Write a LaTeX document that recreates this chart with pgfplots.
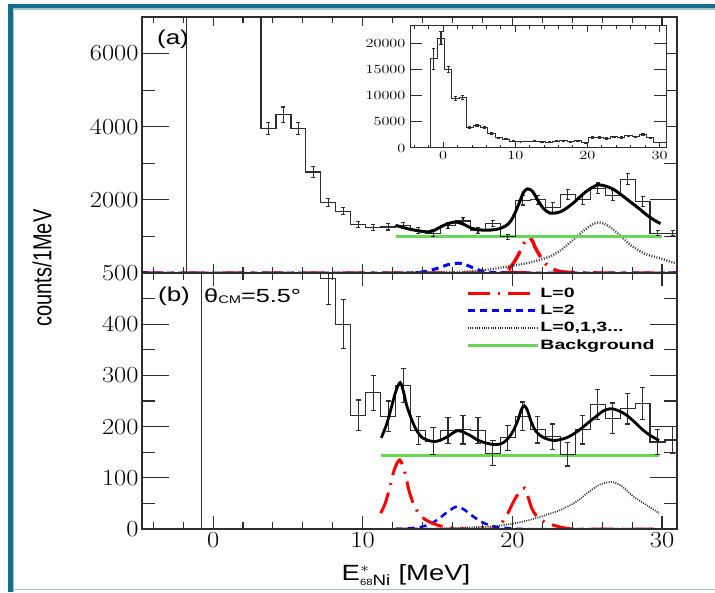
\documentclass[border=0pt]{standalone}
\usepackage{pgfplots}
\usepackage{pgfplotstable}
\pgfplotsset{compat=1.18}
\usepackage{fontspec}
\setsansfont{Liberation Sans}

\definecolor{frameteal}{RGB}{24,110,142}
\definecolor{framelight}{RGB}{168,196,204}
\definecolor{fitgreen}{RGB}{105,215,85}
\definecolor{histgray}{RGB}{45,45,45}

% ---------- panel (a) / inset histogram (bin edges, const plot mark left)
\pgfplotstableread{
x y
-1.8 0
-1.8 17000
-0.8 21000
0.2 15000
1.2 9400
2.2 9700
3.2 3950
4.2 4330
5.2 3950
6.2 2760
7.2 1930
8.2 1690
9.2 1320
10.2 1240
11.2 1260
12.2 1300
13.2 1170
14.2 1090
15.2 1300
16.2 1420
17.2 1170
18.2 1350
19.2 990
20.2 1990
21.2 2000
22.2 1790
23.2 2140
24.2 2005
25.2 2320
26.2 2120
27.2 2560
28.2 1950
29.2 1090
30.2 1090
31.2 1090
}\tabAstep

\pgfplotstableread{
c y e
-1.3 17000 2000
-0.3 21000 1250
0.7 15000 500
1.7 9400 350
2.7 9700 350
3.7 3950 175
4.7 4330 210
5.7 3950 175
6.7 2760 145
7.7 1930 113
8.7 1690 100
9.7 1320 85
10.7 1240 85
11.7 1260 85
12.7 1300 85
13.7 1170 85
14.7 1090 85
15.7 1300 85
16.7 1420 90
17.7 1170 85
18.7 1350 90
19.7 990 70
20.7 1990 130
21.7 2000 130
22.7 1790 130
23.7 2140 135
24.7 2005 130
25.7 2320 140
26.7 2120 135
27.7 2560 150
28.7 1950 130
29.7 1090 60
30.7 1090 60
}\tabAerr

% ---------- panel (b) histogram
\pgfplotstableread{
x y
-0.8 0
-0.8 3000
0.2 3000
1.2 2500
2.2 2000
3.2 1500
4.2 1200
5.2 1000
6.2 800
7.2 490
8.2 400
9.2 222
10.2 266
11.2 220
12.2 280
13.2 192
14.2 172
15.2 192
16.2 194
17.2 192
18.2 148
19.2 178
20.2 220
21.2 194
22.2 180
23.2 146
24.2 194
25.2 243
26.2 216
27.2 235
28.2 245
29.2 170
30.2 174
31.2 174
}\tabBstep

\pgfplotstableread{
c y e
7.7 490 52
8.7 400 48
9.7 222 30
10.7 266 34
11.7 220 30
12.7 280 33
13.7 192 27
14.7 172 27
15.7 192 25
16.7 194 28
17.7 192 25
18.7 148 24
19.7 178 25
20.7 220 28
21.7 194 26
22.7 180 25
23.7 146 23
24.7 194 28
25.7 243 30
26.7 216 30
27.7 235 30
28.7 245 31
29.7 170 25
30.7 174 26
}\tabBerr

\pgfplotsset{
  panel/.style={scale only axis, width=535pt, height=256pt, xmin=-4.75, xmax=31,
    anchor=south west,
    axis line style={histgray, line width=1.1pt},
    tick style={histgray, line width=1.1pt},
    /pgf/number format/1000 sep={}, /pgf/number format/assume math mode=true,
    scaled ticks=false,
    tick label style={font=\rmfamily\fontsize{23}{23}\selectfont, xscale=1.15, text=black},
    yticklabel style={xshift=0.5pt}},
  hist/.style={histgray, line width=1.2pt, const plot mark left, mark=none},
  errs/.style={histgray, line width=1.1pt, only marks, mark=text, text mark={},
    error bars/y dir=both, error bars/y explicit,
    error bars/error bar style={histgray, line width=1.1pt},
    error bars/error mark options={rotate=90, histgray, line width=1.1pt, mark size=2.6pt}},
  redL/.style={red, line width=3pt, dash pattern=on 22pt off 8pt on 2pt off 8pt, smooth},
  blueL/.style={blue, line width=2.5pt, dash pattern=on 7pt off 5pt, smooth},
  dotL/.style={black!85, line width=1.6pt, dash pattern=on 1pt off 1.3pt, smooth},
  bgL/.style={fitgreen, line width=2.6pt},
  fitL/.style={black, line width=2.8pt, smooth},
}

\begin{document}
\begin{tikzpicture}[x=1pt,y=1pt]
\path[use as bounding box] (0,0) rectangle (715,592);
% slide frame
\fill[frameteal] (7.5,0) rectangle (12.5,588);
\fill[frameteal] (7.5,584) rectangle (715,588);
\draw[framelight, line width=1.2pt] (13.2,583) -- (715,583);
\draw[framelight, line width=1.2pt] (13.2,0) -- (13.2,583);
\draw[framelight, line width=1.2pt] (13.2,2.5) -- (715,2.5);

% ================= panel (b) =================
\begin{axis}[panel, at={(142pt,63pt)}, ymin=0, ymax=500,
  ytick={0,100,200,300,400,500}, minor ytick={50,150,250,350,450},
  xtick=\empty, major tick length=27pt, minor tick length=13pt,
  legend style={at={(0.6,0.955)}, anchor=north west, draw=none, fill=none,
    font=\sffamily\bfseries\fontsize{13.5}{14}\selectfont, row sep=4pt,
    nodes={inner sep=1.2pt}},
  legend cell align=left,
  legend image code/.code={\draw[#1] (0pt,0pt) -- (70pt,0pt);},
]
% L=0 (second peak, legend carrier)
\addplot[redL] coordinates {(12.2,0) (18.5,0) (19.2,10) (19.6,25) (20.1,55) (20.5,73) (20.8,80) (21.05,62) (21.3,40) (21.6,26) (21.9,18) (22.4,11) (22.8,7) (23.5,2) (24.5,0) (30,0)};
\addlegendentry{\scalebox{1.45}[1]{L=0}}
\addplot[blueL] coordinates {(12.2,0) (13,1) (13.9,4) (14.5,10) (15,18) (15.6,32) (16.2,43) (16.6,41) (17,33) (17.5,22) (18,13) (18.6,6) (19.2,3) (20,1) (21,0) (30,0)};
\addlegendentry{\scalebox{1.45}[1]{L=2}}
\addplot[dotL] coordinates {(12.2,0) (15,1) (17,3) (18.5,5) (19.5,8) (20.3,12) (21.2,18) (22.2,27) (23.2,37) (24.2,52) (25,70) (25.8,86) (26.6,92) (27.3,84) (28.1,63) (29,46) (29.8,31)};
\addlegendentry{\scalebox{1.45}[1]{L=0,1,3...}}
\addplot[bgL] coordinates {(11.2,143) (29.8,143)};
\addlegendentry{\scalebox{1.45}[1]{Background}}
% L=0 first peak
\addplot[forget plot, redL] coordinates {(11.2,31) (11.5,50) (11.8,80) (12.1,115) (12.47,135) (12.8,112) (13.1,74) (13.4,48) (13.7,32) (14.1,20) (14.6,12) (15.2,6) (15.8,2.5) (16.5,1) (17,0)};
% histogram + errors
\addplot[forget plot, hist] table[x=x, y=y] {\tabBstep};
\addplot[forget plot, errs] table[x=c, y=y, y error=e] {\tabBerr};
% total fit
\addplot[forget plot, fitL] coordinates {(11.24,178) (11.6,205) (11.9,236) (12.2,268) (12.5,286) (12.75,265) (12.95,240) (13.36,207) (13.7,188) (14.0,178) (14.5,172) (14.9,171) (15.3,175) (15.7,181) (16.35,192) (17.1,184) (17.6,175) (18.0,170) (18.7,165) (19.2,166) (19.5,171) (19.8,180) (20.1,194) (20.4,215) (20.6,233) (20.8,241) (21.0,232) (21.25,210) (21.5,194) (21.8,184) (22.2,177) (22.7,173) (23.1,174) (23.6,178) (24.0,184) (24.5,194) (25.0,206) (25.6,220) (26.1,231) (26.6,235) (27.1,231) (27.6,223) (28.2,208) (28.7,194) (29.2,183) (29.8,173)};
\end{axis}
% x ticks of panel (b)
\begin{axis}[panel, at={(142pt,63pt)}, ymin=0, ymax=500, ytick=\empty,
  xtick={0,10,20,30}, minor xtick={-4,-2,2,4,6,8,12,14,16,18,22,24,26,28},
  major tick length=13pt, minor tick length=6.5pt]
\end{axis}

% ================= panel (a) =================
\begin{axis}[panel, at={(142pt,319pt)}, ymin=0, ymax=7000,
  ytick={2000,4000,6000}, minor ytick={1000,3000,5000},
  xtick=\empty, major tick length=27pt, minor tick length=13pt]
\addplot[redL, line width=3.5pt] coordinates {(-4.75,0) (19,0) (19.5,40) (19.9,170) (20.2,354) (20.5,580) (20.8,830) (21.1,980) (21.35,870) (21.5,716) (21.8,500) (22.1,308) (22.5,150) (23.0,60) (23.5,25) (24.5,5) (25.5,0) (31,0)};
\addplot[blueL, line width=3pt] coordinates {(-4.75,0) (13,0) (13.5,10) (14,30) (14.6,82) (15,130) (15.3,170) (15.7,230) (16.1,262) (16.4,268) (16.8,240) (17.1,190) (17.5,120) (17.9,65) (18.4,25) (19,8) (20,0) (31,0)};
\addplot[dotL, line width=2.4pt, black!75, dash pattern=on 1pt off 1.6pt] coordinates {(-4.75,0) (12,0) (14,10) (16,25) (17,40) (18,75) (19,130) (20,200) (21,270) (22,380) (22.5,450) (23,560) (23.4,672) (23.8,820) (24.3,988) (24.7,1140) (25.1,1260) (25.4,1340) (25.75,1385) (26.1,1350) (26.5,1260) (26.9,1130) (27.3,988) (27.9,762) (28.4,630) (28.8,536) (29.4,450) (29.9,400) (30.4,330) (30.9,264) (31,255)};
\addplot[bgL, line width=3pt] coordinates {(12.2,1000) (30,1000)};
\addplot[hist] table[x=x, y=y] {\tabAstep};
\addplot[errs, /pgfplots/error bars/error mark options={rotate=90, histgray, line width=1.1pt, mark size=2pt}] table[x=c, y=y, y error=e] {\tabAerr};
\addplot[fitL, line width=3pt] coordinates {(12.2,1300) (12.6,1260) (13.0,1210) (13.5,1170) (14.0,1135) (14.4,1125) (14.8,1170) (15.2,1260) (15.7,1350) (16.2,1395) (16.7,1340) (17.3,1220) (17.8,1180) (18.3,1170) (18.8,1185) (19.2,1220) (19.6,1300) (19.85,1400) (20.1,1570) (20.3,1760) (20.5,1960) (20.7,2170) (20.85,2260) (21.0,2300) (21.2,2280) (21.4,2200) (21.7,1990) (22.07,1768) (22.5,1640) (23.0,1650) (23.4,1714) (24.0,1890) (24.5,2076) (25.0,2250) (25.6,2394) (26.0,2400) (26.7,2300) (27.3,2130) (27.9,1940) (28.5,1750) (29.0,1580) (29.5,1440) (29.9,1350)};
\end{axis}
\begin{axis}[panel, at={(142pt,319pt)}, ymin=0, ymax=7000, ytick=\empty,
  xtick={0,10,20,30}, xticklabels={}, minor xtick={-4,-2,2,4,6,8,12,14,16,18,22,24,26,28},
  major tick length=9pt, minor tick length=6pt]
\end{axis}

% ================= inset =================
\begin{axis}[scale only axis, width=256pt, height=122pt, at={(410pt,444pt)}, anchor=south west,
  xmin=-4.6, xmax=30.9, ymin=0, ymax=23300,
  axis background/.style={fill=white},
  axis line style={histgray, line width=1pt}, tick style={histgray, line width=1pt},
  /pgf/number format/1000 sep={}, /pgf/number format/assume math mode=true, scaled ticks=false,
  tick label style={font=\rmfamily\fontsize{12.5}{12.5}\selectfont, xscale=1.3, text=black},
  ytick={0,5000,10000,15000,20000}, xtick=\empty,
  major tick length=12pt]
\addplot[hist, line width=1pt] table[x=x, y=y] {\tabAstep};
\addplot[errs, line width=0.9pt, /pgfplots/error bars/error mark options={rotate=90, histgray, line width=0.9pt, mark size=1.6pt}] table[x=c, y=y, y error=e] {\tabAerr};
\end{axis}
\begin{axis}[scale only axis, width=256pt, height=122pt, at={(410pt,444pt)}, anchor=south west,
  xmin=-4.6, xmax=30.9, ymin=0, ymax=23300,
  axis line style={histgray, line width=1pt}, tick style={histgray, line width=1pt},
  /pgf/number format/assume math mode=true,
  tick label style={font=\rmfamily\fontsize{12.5}{12.5}\selectfont, xscale=1.3, text=black},
  ytick=\empty, xtick={0,10,20,30}, minor xtick={-4,-2,2,4,6,8,12,14,16,18,22,24,26,28},
  major tick length=6pt, minor tick length=3pt]
\end{axis}

% ================= texts =================
\node[font=\sffamily\fontsize{20}{20}\selectfont] at (173,553) {\scalebox{1.3}[1]{(a)}};
\node[font=\sffamily\fontsize{20}{20}\selectfont] at (174,296) {\scalebox{1.3}[1]{(b)}};
\node[font=\sffamily\fontsize{19}{19}\selectfont, anchor=west, inner sep=0pt] at (204,296)
  {\scalebox{1.33}[1]{θ\raisebox{-1pt}{\fontsize{11}{11}\selectfont CM}=5.5°}};
\node[font=\sffamily\fontsize{20}{20}\selectfont, rotate=90] at (42,324)
  {\scalebox{1}[1.3]{counts/1MeV}};
\node[font=\sffamily\fontsize{22}{22}\selectfont, anchor=base] at (406,12)
  {\scalebox{1.25}[1]{E$^{*}_{\mbox{\fontsize{9}{9}\selectfont\sffamily 68}\mbox{\fontsize{15}{15}\selectfont\sffamily Ni}}$ [MeV]}};
\end{tikzpicture}
\end{document}
